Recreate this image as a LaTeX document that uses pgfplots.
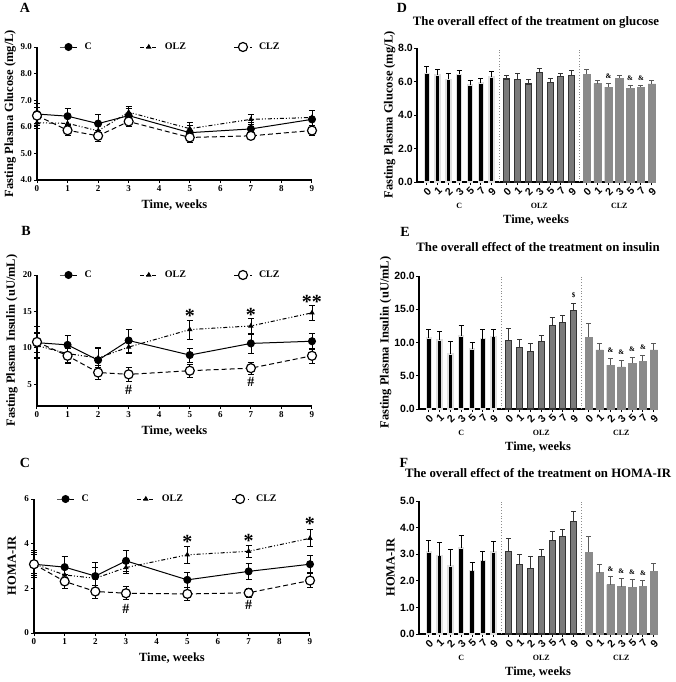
\documentclass[border=0pt]{standalone}
\usepackage{fontspec}
\setmainfont{Liberation Serif}
\setsansfont{Liberation Sans}
\usepackage{pgfplots}
\usepackage{pgfplotstable}
\pgfplotsset{compat=1.18}

% glucose (mg/L)
\pgfplotstableread{
wk y e
0 6.48 0.42
1 6.40 0.30
2 6.12 0.33
3 6.42 0.26
5 5.78 0.27
7 5.92 0.25
9 6.28 0.33
}\gluC
\pgfplotstableread{
wk y e
0 6.15 0.22
1 6.13 0.32
2 5.85 0.25
3 6.55 0.22
5 5.93 0.25
7 6.28 0.20
9 6.35 0.28
}\gluO
\pgfplotstableread{
wk y e
0 6.42 0.30
1 5.87 0.18
2 5.66 0.22
3 6.20 0.18
5 5.60 0.18
7 5.66 0.12
9 5.86 0.18
}\gluL
% insulin (uU/mL)
\pgfplotstableread{
wk y e
0 10.7 1.3
1 10.4 1.3
2 8.3 1.8
3 11.0 1.6
5 9.0 0.95
7 10.6 1.4
9 10.9 1.05
}\insC
\pgfplotstableread{
wk y e
0 10.3 1.8
1 9.2 1.2
2 8.6 1.3
3 10.1 0.9
5 12.5 1.3
7 13.0 1.1
9 14.8 1.0
}\insO
\pgfplotstableread{
wk y e
0 10.8 2.1
1 8.9 1.0
2 6.6 1.0
3 6.35 1.0
5 6.85 0.9
7 7.2 0.85
9 8.9 1.0
}\insL
% HOMA-IR
\pgfplotstableread{
wk y e
0 3.08 0.42
1 2.95 0.48
2 2.55 0.63
3 3.23 0.48
5 2.38 0.32
7 2.76 0.36
9 3.08 0.38
}\homC
\pgfplotstableread{
wk y e
0 3.10 0.50
1 2.60 0.40
2 2.45 0.47
3 2.93 0.24
5 3.50 0.37
7 3.66 0.28
9 4.24 0.38
}\homO
\pgfplotstableread{
wk y e
0 3.08 0.60
1 2.31 0.30
2 1.86 0.29
3 1.78 0.29
5 1.75 0.30
7 1.80 0.22
9 2.35 0.30
}\homL

\definecolor{olzgray}{HTML}{7A7A7A}
\definecolor{clzgray}{HTML}{8A8A8A}

\pgfplotsset{
  lineax/.style={
    scale only axis, width=275pt, axis lines=left, clip=false,
    axis line style={-, line width=1.2pt}, tick style={black, line width=1pt},
    tick align=outside, major tick length=3pt,
    xmin=0, xmax=9, xtick={0,...,9},
    ticklabel style={font=\bfseries\fontsize{9}{10}\selectfont, inner sep=2pt},
    /pgf/number format/assume math mode=true,
    label style={font=\bfseries\fontsize{12.5}{14}\selectfont},
    xlabel={Time, weeks},
    xlabel style={at={(axis description cs:0.5,0)}, anchor=center, yshift=-25pt},
    ylabel style={anchor=center},
    legend columns=3, legend cell align=left,
    legend style={draw=none, fill=none, at={(axis description cs:0.07,1)}, anchor=west,
      font=\bfseries\fontsize{10}{12}\selectfont,
      /tikz/every odd column/.style={column sep=5pt},
      /tikz/every even column/.style={column sep=46pt}},
  },
  lerr/.style={error bars/y dir=both, error bars/y explicit,
    error bars/error bar style={solid, black, line width=0.7pt},
    error bars/error mark options={solid, black, rotate=90, mark size=3pt, line width=0.7pt}},
  cser/.style={black, line width=1pt, mark=*, mark size=3.5pt, mark options={solid, fill=black}, lerr},
  oser/.style={black, line width=1pt, dash pattern=on 4pt off 2pt on 1pt off 2pt on 1pt off 2pt,
    mark=triangle*, mark size=2.2pt, mark options={solid, fill=black}, lerr},
  lser/.style={black, line width=1pt, dash pattern=on 5pt off 3pt,
    mark=*, mark size=4.5pt, mark options={solid, fill=white, line width=1.2pt}, lerr},
  barax/.style={
    scale only axis, width=238pt, axis lines=left, clip=false,
    axis line style={-, line width=1.2pt}, tick style={black, line width=1pt},
    tick align=outside, major tick length=3pt,
    xmin=-0.9, xmax=21.1, ymin=0,
    xtick={0,1,2,3,4,5,6,7.4,8.4,9.4,10.4,11.4,12.4,13.4,14.8,15.8,16.8,17.8,18.8,19.8,20.8},
    xticklabels={0,1,2,3,5,7,9,0,1,2,3,5,7,9,0,1,2,3,5,7,9},
    xticklabel style={font=\sffamily\bfseries\fontsize{10.5}{10.5}\selectfont, rotate=45, anchor=north east, inner sep=1pt},
    yticklabel style={font=\sffamily\bfseries\fontsize{10.5}{11}\selectfont, inner sep=1pt,
      /pgf/number format/fixed, /pgf/number format/fixed zerofill, /pgf/number format/precision=1},
    /pgf/number format/assume math mode=true,
    label style={font=\bfseries\fontsize{12.5}{14}\selectfont},
    title style={font=\bfseries\fontsize{12.8}{14}\selectfont, at={(axis description cs:0.5,1)}, anchor=center},
    xlabel={Time, weeks},
    xlabel style={at={(axis description cs:0.5,0)}, anchor=center, yshift=-38pt},
    ylabel style={anchor=center},
  },
  berr/.style={error bars/y dir=plus, error bars/y explicit,
    error bars/error bar style={#1, line width=1pt},
    error bars/error mark options={#1, rotate=90, mark size=2.5pt, line width=1pt}},
  cbar/.style={ybar, bar shift=0pt, bar width=5pt, fill=black, draw=black!12, line width=1.4pt, berr=black},
  obar/.style={ybar, bar shift=0pt, bar width=6pt, fill=olzgray, draw=black!80, line width=1.1pt, berr=black!80},
  lbar/.style={ybar, bar shift=0pt, bar width=7.5pt, fill=clzgray, draw=clzgray, line width=0.4pt, berr=black!65},
}

\newcommand{\grp}{\bfseries\fontsize{8}{9}\selectfont}
\newcommand{\amp}{\bfseries\fontsize{7}{7}\selectfont}
\newcommand{\sigstar}{\bfseries\fontsize{20}{20}\selectfont}
\newcommand{\hsh}{\bfseries\fontsize{14}{14}\selectfont}

\begin{document}
\begin{tikzpicture}
\path[use as bounding box] (0pt,0pt) rectangle (675pt,-682pt);

% ---------- A ----------
\begin{axis}[lineax, at={(37pt,-180pt)}, anchor=south west, height=133pt,
  ymin=4, ymax=9, ytick={4,5,...,9},
  yticklabel style={/pgf/number format/fixed, /pgf/number format/fixed zerofill, /pgf/number format/precision=1},
  ylabel={Fasting Plasma Glucose (mg/L)},
  ylabel style={at={(axis description cs:-0.098,0.5)}},
  legend entries={C,OLZ,CLZ}]
\addplot[cser] table[x=wk,y=y,y error=e] {\gluC};
\addplot[oser] table[x=wk,y=y,y error=e] {\gluO};
\addplot[lser] table[x=wk,y=y,y error=e] {\gluL};
\end{axis}

% ---------- B ----------
\begin{axis}[lineax, at={(37pt,-406pt)}, anchor=south west, height=131pt,
  ymin=2, ymax=20, ytick={5,10,15,20},
  ylabel={Fasting Plasma Insulin (uU/mL)},
  ylabel style={at={(axis description cs:-0.091,0.5)}},
  legend entries={C,OLZ,CLZ}]
\addplot[cser] table[x=wk,y=y,y error=e] {\insC};
\addplot[oser] table[x=wk,y=y,y error=e] {\insO};
\addplot[lser] table[x=wk,y=y,y error=e] {\insL};
\node[font=\sigstar] at (axis cs:5,14.4) {*};
\node[font=\sigstar] at (axis cs:7,14.5) {*};
\node[font=\sigstar] at (axis cs:9,16.3) {**};
\node[font=\hsh] at (axis cs:3,4.2) {\#};
\node[font=\hsh] at (axis cs:7,5.3) {\#};
\end{axis}

% ---------- C ----------
\begin{axis}[lineax, width=276pt, at={(34pt,-633pt)}, anchor=south west, height=134pt,
  ymin=0, ymax=6, ytick={0,2,4,6},
  ylabel={HOMA-IR},
  ylabel style={at={(axis description cs:-0.08,0.5)}},
  legend entries={C,OLZ,CLZ}]
\addplot[cser] table[x=wk,y=y,y error=e] {\homC};
\addplot[oser] table[x=wk,y=y,y error=e] {\homO};
\addplot[lser] table[x=wk,y=y,y error=e] {\homL};
\node[font=\sigstar] at (axis cs:5,4.08) {*};
\node[font=\sigstar] at (axis cs:7,4.12) {*};
\node[font=\sigstar] at (axis cs:9,4.87) {*};
\node[font=\hsh] at (axis cs:3,1.07) {\#};
\node[font=\hsh] at (axis cs:7,1.25) {\#};
\end{axis}

% ---------- D ----------
\begin{axis}[barax, at={(417pt,-182pt)}, anchor=south west, height=134pt,
  ymax=8, ytick={0,2,4,6,8},
  title={The overall effect of the treatment on glucose}, title style={yshift=20pt},
  ylabel={Fasting Plasma Glucose (mg/L)},
  ylabel style={at={(axis description cs:-0.115,0.5)}}]
\addplot[cbar] table[x expr=\coordindex, y=y, y error=e] {\gluC};
\addplot[obar] table[x expr=\coordindex+7.4, y=y, y error=e] {\gluO};
\addplot[lbar] table[x expr=\coordindex+14.8, y=y, y error=e] {\gluL};
\draw[black!45, dotted, line width=0.8pt] (axis cs:6.7,0) -- (axis cs:6.7,8);
\draw[black!45, dotted, line width=0.8pt] (axis cs:14.1,0) -- (axis cs:14.1,8);
\node[font=\amp, anchor=south, yshift=1.5pt] at (axis cs:16.8,5.88) {\&};
\node[font=\amp, anchor=south, yshift=1.5pt] at (axis cs:18.8,5.78) {\&};
\node[font=\amp, anchor=south, yshift=1.5pt] at (axis cs:19.8,5.78) {\&};
\node[font=\grp] at (axis cs:3,0) [yshift=-24pt] {C};
\node[font=\grp] at (axis cs:10.4,0) [yshift=-24pt] {OLZ};
\node[font=\grp] at (axis cs:17.8,0) [yshift=-24pt] {CLZ};
\end{axis}

% ---------- E ----------
\begin{axis}[barax, at={(419pt,-409pt)}, anchor=south west, height=133pt,
  ymax=20, ytick={0,5,10,15,20},
  title={The overall effect of the treatment on insulin}, title style={yshift=23pt},
  ylabel={Fasting Plasma Insulin (uU/mL)},
  ylabel style={at={(axis description cs:-0.14,0.5)}}]
\addplot[cbar] table[x expr=\coordindex, y=y, y error=e] {\insC};
\addplot[obar] table[x expr=\coordindex+7.4, y=y, y error=e] {\insO};
\addplot[lbar] table[x expr=\coordindex+14.8, y=y, y error=e] {\insL};
\draw[black!45, dotted, line width=0.8pt] (axis cs:6.7,0) -- (axis cs:6.7,20);
\draw[black!45, dotted, line width=0.8pt] (axis cs:14.1,0) -- (axis cs:14.1,20);
\node[font=\amp, anchor=south, yshift=2.5pt] at (axis cs:13.4,15.8) {\$};
\node[font=\amp, anchor=south, yshift=2.5pt] at (axis cs:16.8,7.6) {\&};
\node[font=\amp, anchor=south, yshift=2.5pt] at (axis cs:17.8,7.35) {\&};
\node[font=\amp, anchor=south, yshift=2.5pt] at (axis cs:18.8,7.75) {\&};
\node[font=\amp, anchor=south, yshift=2.5pt] at (axis cs:19.8,8.05) {\&};
\node[font=\grp] at (axis cs:3,0) [yshift=-24pt] {C};
\node[font=\grp] at (axis cs:10.4,0) [yshift=-24pt] {OLZ};
\node[font=\grp] at (axis cs:17.8,0) [yshift=-24pt] {CLZ};
\end{axis}

% ---------- F ----------
\begin{axis}[barax, at={(419pt,-634pt)}, anchor=south west, height=133pt,
  ymax=5, ytick={0,1,...,5},
  title={The overall effect of the treatment on HOMA-IR}, title style={yshift=22pt},
  ylabel={HOMA-IR},
  ylabel style={at={(axis description cs:-0.12,0.5)}}]
\addplot[cbar] table[x expr=\coordindex, y=y, y error=e] {\homC};
\addplot[obar] table[x expr=\coordindex+7.4, y=y, y error=e] {\homO};
\addplot[lbar] table[x expr=\coordindex+14.8, y=y, y error=e] {\homL};
\draw[black!45, dotted, line width=0.8pt] (axis cs:6.7,0) -- (axis cs:6.7,5);
\draw[black!45, dotted, line width=0.8pt] (axis cs:14.1,0) -- (axis cs:14.1,5);
\node[font=\amp, anchor=south, yshift=1.5pt] at (axis cs:16.8,2.15) {\&};
\node[font=\amp, anchor=south, yshift=1.5pt] at (axis cs:17.8,2.07) {\&};
\node[font=\amp, anchor=south, yshift=1.5pt] at (axis cs:18.8,2.05) {\&};
\node[font=\amp, anchor=south, yshift=1.5pt] at (axis cs:19.8,2.02) {\&};
\node[font=\grp] at (axis cs:3,0) [yshift=-24pt] {C};
\node[font=\grp] at (axis cs:10.4,0) [yshift=-24pt] {OLZ};
\node[font=\grp] at (axis cs:17.8,0) [yshift=-24pt] {CLZ};
\end{axis}

% panel letters
\node[font=\bfseries\fontsize{14}{14}\selectfont] at (25pt,-8pt) {A};
\node[font=\bfseries\fontsize{14}{14}\selectfont] at (26pt,-231pt) {B};
\node[font=\bfseries\fontsize{14}{14}\selectfont] at (25pt,-463pt) {C};
\node[font=\bfseries\fontsize{14}{14}\selectfont] at (402pt,-8pt) {D};
\node[font=\bfseries\fontsize{14}{14}\selectfont] at (405pt,-232pt) {E};
\node[font=\bfseries\fontsize{14}{14}\selectfont] at (404pt,-463pt) {F};
\end{tikzpicture}
\end{document}
